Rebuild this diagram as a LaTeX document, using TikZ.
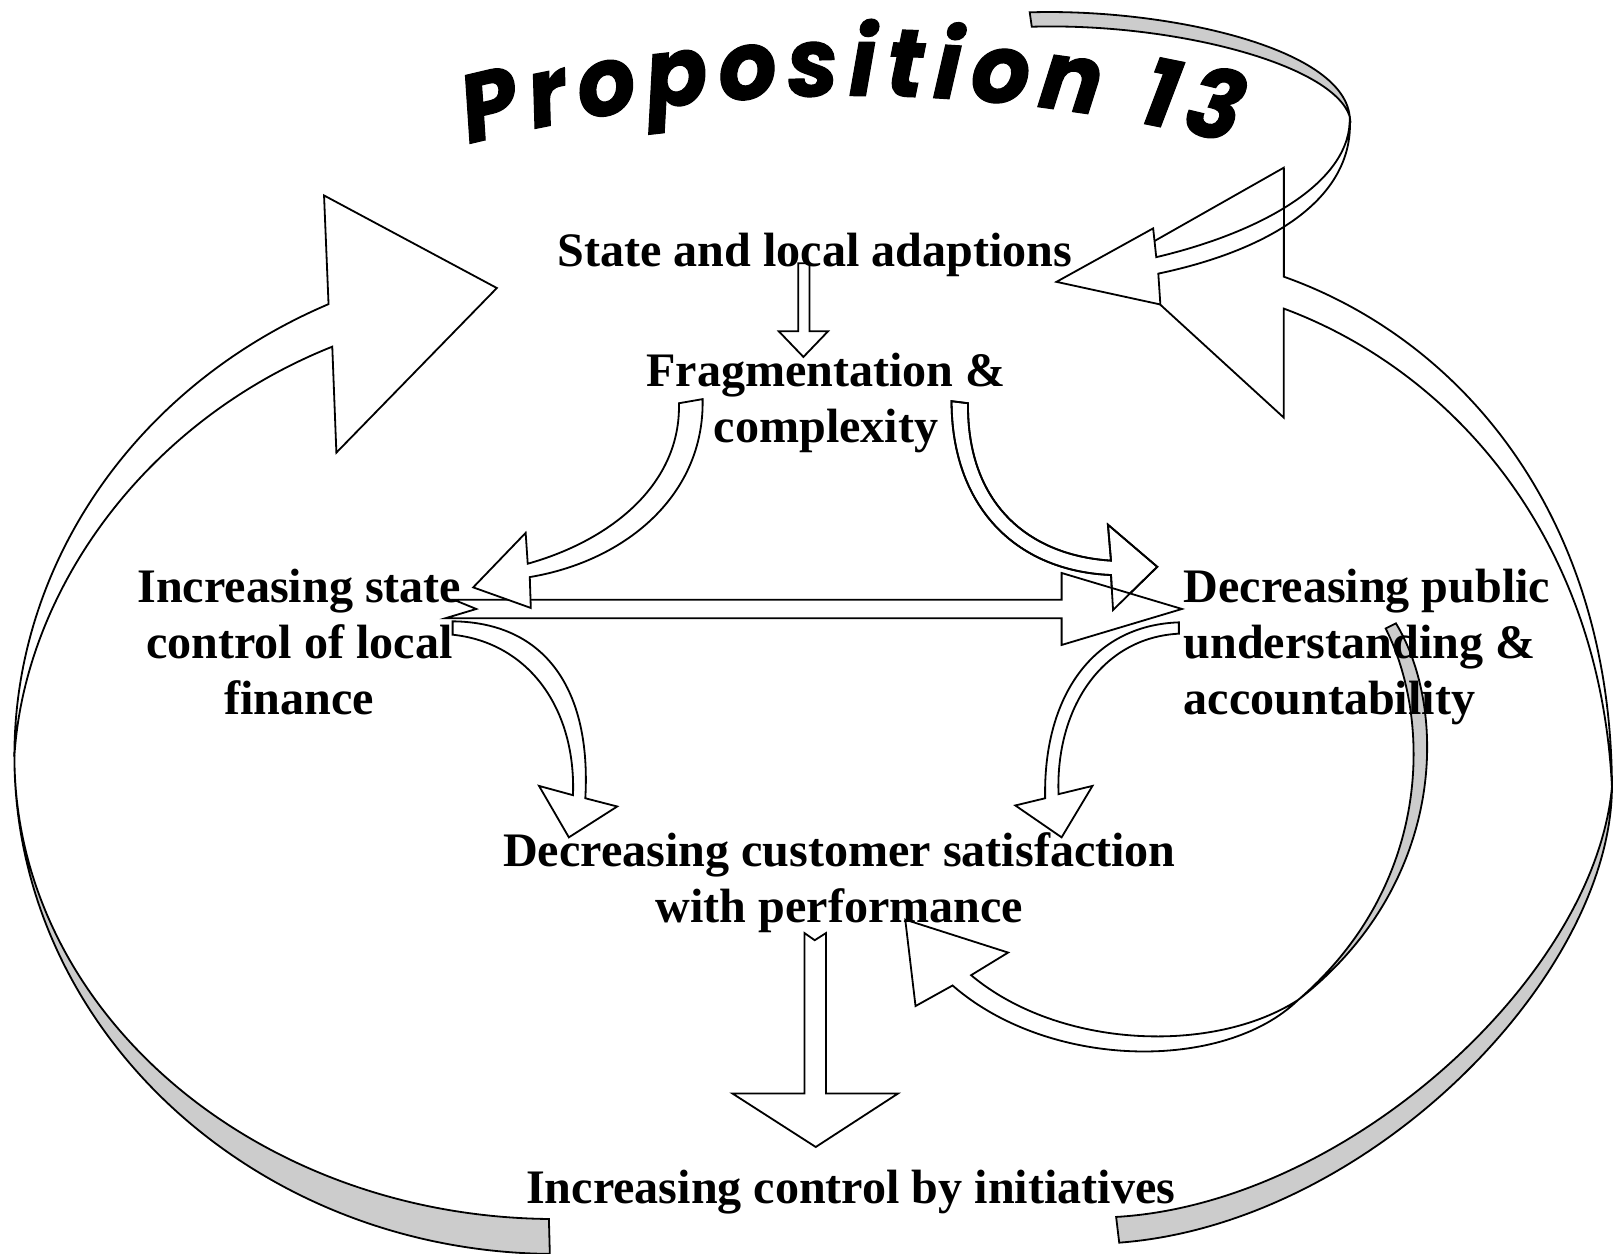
\documentclass[tikz,border=0pt]{standalone}
\usepackage{fontspec}
\setmainfont{Liberation Serif}
\newfontfamily\titlefont{Poppins}[FakeStretch=0.95,FakeBold=1.2]
\usetikzlibrary{decorations.text}
\begin{document}
\begin{tikzpicture}[x=0.01cm, y=-0.01cm,
  edge/.style={draw=black, line width=0.5pt, line join=miter},
  wband/.style={edge, fill=white},
  gband/.style={edge, fill=black!20},
  lbl/.style={font=\bfseries\fontsize{13.3pt}{15.5pt}\selectfont, align=center, inner sep=0pt, anchor=base},
]
\useasboundingbox (0,0) rectangle (1568,1219);
\fill[white] (0,0) rectangle (1568,1219);

% right big arrow (back gray part and front white part)
\path[gband] (1567,765) .. controls (1566,950) and (1330,1190) .. (1088,1208) -- (1085,1183) .. controls (1310,1170) and (1550,950) .. (1567,765) -- cycle;
\path[wband] (1248,269) -- (1248,163) -- (1084,256) -- (1248,406) -- (1248,300) .. controls (1410,360) and (1555,520) .. (1567,765) .. controls (1566,500) and (1420,330) .. (1248,269) -- cycle;

% top arrow
\path[gband] (1001,12) .. controls (1130,8) and (1305,45) .. (1312,113) .. controls (1295,62) and (1140,22) .. (1003,26) -- cycle;
\path[wband] (1312,113) .. controls (1315,175) and (1230,225) .. (1124,250) -- (1121,222) -- (1027,274) -- (1128,296) -- (1126,266) .. controls (1240,242) and (1318,190) .. (1312,113) -- cycle;
\draw[edge] (1248,163) -- (1248,269);

% left big arrow
\path[gband] (14,735) arc[start angle=180, end angle=90.6, x radius=526, y radius=484] -- (533.6,1185) arc[start angle=90.7, end angle=180, x radius=526, y radius=450] -- cycle;
\path[wband] (14,735) arc[start angle=180, end angle=245.2, x radius=526, y radius=484] -- (315,190) -- (483,280) -- (327,440) -- (323,337) .. controls (140,410) and (24,575) .. (14,735) -- cycle;

% loop arrow under "Decreasing public"
\path[gband] (1347,611) .. controls (1392,700) and (1392,860) .. (1262,972) .. controls (1406,860) and (1408,690) .. (1357,606) -- cycle;
\path[wband] (1262,972) .. controls (1180,1025) and (1030,1020) .. (944,948) -- (980,926) -- (880,894) -- (890,978) -- (926,958) .. controls (1020,1040) and (1190,1042) .. (1262,972) -- cycle;

% small down arrow
\path[wband] (776,256) -- (787,256) -- (787,322) -- (805,322) -- (781,347) -- (757,322) -- (776,322) -- cycle;

% fragmentation -> decreasing public
\path[wband] (925,390) -- (941,392) .. controls (940,490) and (1000,540) .. (1080,545) -- (1077,510) -- (1125,551) -- (1082,593) -- (1080,559) .. controls (985,555) and (925,490) .. (925,390) -- cycle;
% horizontal arrow
\path[wband] (441,583) -- (1032,583) -- (1032,557) -- (1149,592) -- (1032,627) -- (1032,601) -- (433,601) -- (463,592) -- cycle;
\path[edge] (925,390) -- (941,392) .. controls (940,490) and (1000,540) .. (1080,545) -- (1077,510) -- (1125,551) -- (1082,593) -- (1080,559) .. controls (985,555) and (925,490) .. (925,390) -- cycle;
% fragmentation -> increasing state
\path[wband] (660,392) -- (683,388) .. controls (685,480) and (610,545) .. (515,561) -- (516,591) -- (460,571) -- (511,518) -- (513,548) .. controls (595,525) and (662,470) .. (660,392) -- cycle;
% increasing state -> customer
\path[wband] (440,604) .. controls (530,605) and (575,670) .. (569,776) -- (600,784) -- (553,814) -- (524,764) -- (557,773) .. controls (560,690) and (515,625) .. (440,617) -- cycle;
% decreasing public -> customer
\path[wband] (1146,605) .. controls (1060,608) and (1014,680) .. (1016,776) -- (987,783) -- (1032,814) -- (1062,764) -- (1029,772) .. controls (1026,690) and (1070,620) .. (1146,616) -- cycle;
% customer -> initiatives
\path[wband] (782,907) -- (792,914) -- (803,907) -- (803,1063) -- (873,1063) -- (793,1115) -- (712,1063) -- (782,1063) -- cycle;

% labels (base anchor = baseline of the last line)
\node[lbl] (t1) at (792,259) {State and local adaptions};
\node[lbl] (t2) at (803,430) {Fragmentation \&\\complexity};
\node[lbl] (t3) at (291,695) {Increasing state\\control of local\\finance};
\node[lbl, align=left, anchor=base west] (t4) at (1150,695) {Decreasing public\\understanding \&\\accountability};
\node[lbl] (t5) at (816,897) {Decreasing customer satisfaction\\with performance};
\node[lbl] (t6) at (827,1170) {Increasing control by initiatives};

% title on an arc
\path[decorate, decoration={text along path, text align={fit to path},
  text={|\titlefont\bfseries\itshape\fontsize{26.5pt}{30pt}\selectfont|Proposition 13}}]
  (456,140) arc[start angle=255.6, end angle=284.4, radius=1496];
\end{tikzpicture}
\end{document}
